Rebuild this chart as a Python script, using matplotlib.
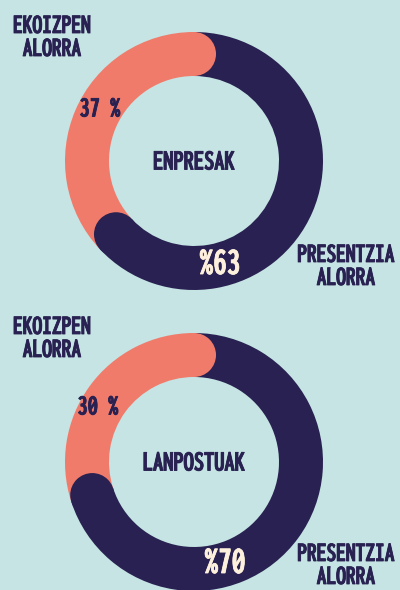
import matplotlib
matplotlib.use("Agg")

import os
import numpy as np
import matplotlib.pyplot as plt
import matplotlib.patheffects as pe
from matplotlib.patches import Wedge, Circle
from matplotlib import font_manager

# ================================
# DATA
# ================================
titles = ["ENPRESAK", "LANPOSTUAK"]
ekoizpen = [37, 30]      # EKOIZPEN ALORRA (%)
presentzia = [63, 70]    # PRESENTZIA ALORRA (%)
ekoizpen_labels = ["37 %", "30 %"]
presentzia_labels = ["%63", "%70"]
side_left = "EKOIZPEN\nALORRA"
side_right = "PRESENTZIA\nALORRA"

BG = "#c5e4e3"
NAVY = "#282151"
SALMON = "#f07b6b"
CREAM = "#fdf0dc"


# look for a narrow bold face (the original uses a tall condensed display font)
def find_narrow():
    files = sorted(f.fname for f in font_manager.fontManager.ttflist)
    for key in ["NotoSans-ExtraCondensedBold", "NotoSans-CondensedBold",
                "ExtraCondensedBold", "CondensedBold", "Condensed-Bold",
                "Narrow-Bold", "NarrowBold"]:
        for fn in files:
            base = os.path.basename(fn)
            if key in base and "Italic" not in base and "Mono" not in base:
                return font_manager.FontProperties(fname=fn)
    return font_manager.FontProperties(family="DejaVu Sans", weight="bold",
                                       stretch="condensed")


FP = find_narrow()

fig = plt.figure(figsize=(4.0, 5.9), dpi=100, facecolor=BG)
ax = fig.add_axes([0, 0, 1, 1])
ax.set_xlim(0, 400)
ax.set_ylim(590, 0)
ax.set_aspect("equal")
ax.axis("off")

R_OUT = 129
WIDTH = 44
R_MID = R_OUT - WIDTH / 2
centers = [(194, 161), (194, 462)]


def donut(cx, cy, dark_val, light_val):
    total = dark_val + light_val
    # dark starts at 12 o'clock and runs clockwise (y axis points down here)
    end = -90 + 360 * dark_val / total
    ax.add_patch(Wedge((cx, cy), R_OUT, -90, end, width=WIDTH,
                       facecolor=NAVY, edgecolor="none"))
    ax.add_patch(Wedge((cx, cy), R_OUT, end, 270, width=WIDTH,
                       facecolor=SALMON, edgecolor="none"))
    # rounded ends: salmon cap at the top, navy cap where navy ends
    ax.add_patch(Circle((cx, cy - R_MID), WIDTH / 2,
                        facecolor=SALMON, edgecolor="none"))
    a = np.deg2rad(end)
    ax.add_patch(Circle((cx + R_MID * np.cos(a), cy + R_MID * np.sin(a)),
                        WIDTH / 2, facecolor=NAVY, edgecolor="none"))


def label(x, y, s, color, size, **kw):
    # a thin stroke of the same colour makes the face look a bit heavier
    ax.text(x, y, s, ha="center", va="center", color=color,
            fontproperties=FP, fontsize=size,
            path_effects=[pe.withStroke(linewidth=0.6, foreground=color)], **kw)


for i, (cx, cy) in enumerate(centers):
    donut(cx, cy, presentzia[i], ekoizpen[i])
    label(cx, cy + 1, titles[i], NAVY, 21)

    oy = cy - 161
    label(52, 38 + oy, side_left, NAVY, 20, linespacing=1.0)
    label(346, 267 + oy - i * 2, side_right, NAVY, 20, linespacing=1.0)
    label(100 - i * 2, 109 + oy - i * 3, ekoizpen_labels[i], NAVY, 21)
    label(220 + i * 5, 264 + oy - i * 2, presentzia_labels[i], CREAM, 28)

plt.savefig("out.png", dpi=100, facecolor=BG)
plt.close()
